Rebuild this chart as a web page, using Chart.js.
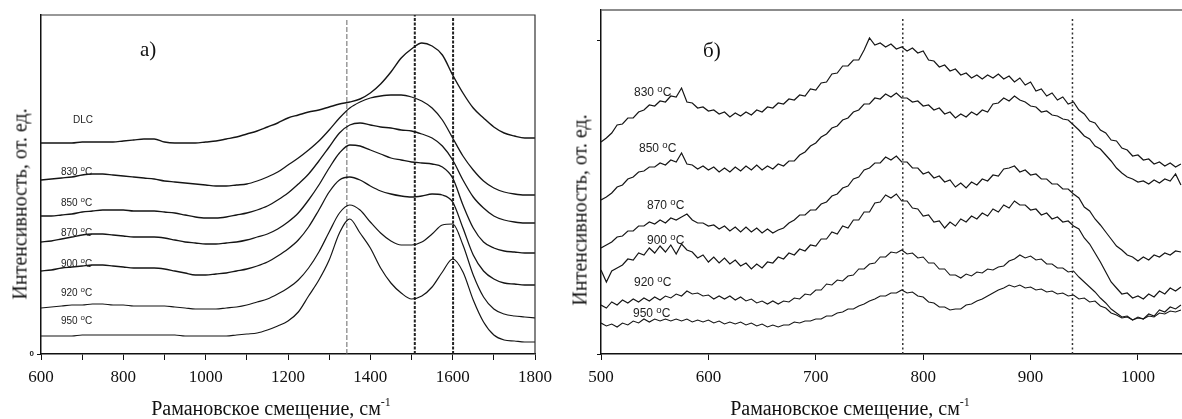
<!DOCTYPE html>
<html>
<head>
<meta charset="utf-8">
<script src="https://cdn.jsdelivr.net/npm/chart.js@4.4.1/dist/chart.umd.min.js"></script>
<style>
  body { margin: 0; background: #fff; }
  #wrap { position: relative; width: 1182px; height: 419px; overflow: hidden; }
  canvas { position: absolute; top: 0; }
  .t { position: absolute; font-family: "Liberation Serif", "Times New Roman", serif; color: #111; white-space: nowrap; }
  .t sup { font-size: 60%; vertical-align: 0; position: relative; top: -0.75em; }
  .lab { position: absolute; font-family: "Liberation Sans", Arial, sans-serif; color: #222; white-space: nowrap; transform: translateY(-50%); }
  .lab sup { font-size: 80%; vertical-align: 0; position: relative; top: -0.45em; }
</style>
</head>
<body>
<div id="wrap">
  <canvas id="chartA" width="560" height="419" style="left:0"></canvas>
  <canvas id="chartB" width="622" height="419" style="left:560px"></canvas>

  <div class="t" style="left:140px;top:37px;font-size:21px">а)</div>
  <div class="t" style="left:703px;top:38px;font-size:21px">б)</div>

  <div class="t" style="left:20px;top:204px;font-size:20px;transform:translate(-50%,-50%) rotate(-90deg)">Интенсивность, от. ед.</div>
  <div class="t" style="left:580px;top:210px;font-size:20px;transform:translate(-50%,-50%) rotate(-90deg)">Интенсивность, от. ед.</div>

  <div class="t" style="left:271px;top:408px;font-size:20px;transform:translate(-50%,-50%)">Рамановское смещение, см<sup>-1</sup></div>
  <div class="t" style="left:850px;top:408px;font-size:20px;transform:translate(-50%,-50%)">Рамановское смещение, см<sup>-1</sup></div>

  <!-- curve labels, panel a -->
  <div class="lab" style="left:73px;top:119px;font-size:10px">DLC</div>
  <div class="lab" style="left:61px;top:171px;font-size:10px">830 <sup>o</sup>C</div>
  <div class="lab" style="left:61px;top:202px;font-size:10px">850 <sup>o</sup>C</div>
  <div class="lab" style="left:61px;top:232px;font-size:10px">870 <sup>o</sup>C</div>
  <div class="lab" style="left:61px;top:263px;font-size:10px">900 <sup>o</sup>C</div>
  <div class="lab" style="left:61px;top:292px;font-size:10px">920 <sup>o</sup>C</div>
  <div class="lab" style="left:61px;top:320px;font-size:10px">950 <sup>o</sup>C</div>

  <!-- curve labels, panel b -->
  <div class="lab" style="left:634px;top:92px;font-size:12px">830 <sup>o</sup>C</div>
  <div class="lab" style="left:639px;top:148px;font-size:12px">850 <sup>o</sup>C</div>
  <div class="lab" style="left:647px;top:205px;font-size:12px">870 <sup>o</sup>C</div>
  <div class="lab" style="left:647px;top:240px;font-size:12px">900 <sup>o</sup>C</div>
  <div class="lab" style="left:634px;top:282px;font-size:12px">920 <sup>o</sup>C</div>
  <div class="lab" style="left:633px;top:313px;font-size:12px">950 <sup>o</sup>C</div>
</div>

<script>
// ---- panel a: DLC and annealed films, 600-1800 cm-1 ----
const shiftA = [600, 625, 650, 675, 700, 725, 750, 775, 800, 825, 850, 875, 900, 925, 950, 975,
  1000, 1025, 1050, 1075, 1100, 1125, 1150, 1175, 1200, 1225, 1250, 1275, 1300, 1325, 1350, 1375,
  1400, 1425, 1450, 1475, 1500, 1525, 1550, 1575, 1600, 1625, 1650, 1675, 1700, 1725, 1750, 1775, 1800];

const dlcA = [211, 211, 211, 211, 212, 212, 212, 212, 213, 214, 215, 215, 212, 211, 211, 211,
  212, 213, 215, 217, 220, 223, 227, 231, 236, 239, 242, 244, 247, 250, 252, 255,
  261, 270, 282, 296, 305, 311, 308, 299, 279, 261, 246, 236, 227, 221, 218, 216, 216];
const a830 = [174, 175, 176, 177, 179, 180, 180, 179, 178, 177, 176, 175, 173, 172, 171, 170,
  169, 168, 168, 169, 170, 173, 177, 182, 189, 196, 204, 213, 224, 236, 246, 252,
  256, 258, 259, 259, 257, 253, 246, 234, 216, 198, 184, 173, 166, 162, 160, 159, 159];
const a850 = [138, 138, 139, 140, 142, 143, 144, 144, 144, 143, 143, 143, 142, 141, 139, 137,
  136, 136, 137, 139, 141, 144, 148, 154, 161, 170, 180, 193, 207, 221, 229, 231,
  229, 227, 226, 224, 223, 220, 216, 208, 194, 174, 157, 146, 138, 134, 132, 131, 131];
const a870 = [112, 113, 115, 117, 119, 120, 120, 119, 118, 117, 117, 117, 116, 114, 112, 111,
  110, 110, 111, 112, 114, 117, 120, 125, 132, 141, 154, 169, 186, 201, 209, 208,
  204, 200, 196, 194, 192, 191, 190, 187, 176, 149, 126, 112, 106, 103, 102, 101, 101];
const a900 = [83, 84, 86, 87, 88, 89, 89, 88, 87, 86, 86, 86, 85, 83, 81, 79,
  79, 80, 81, 83, 85, 88, 92, 98, 105, 114, 127, 144, 162, 174, 177, 174,
  168, 163, 160, 158, 157, 158, 160, 159, 152, 126, 99, 83, 75, 71, 70, 69, 69];
const a920 = [46, 47, 48, 49, 49, 50, 50, 49, 49, 48, 48, 48, 48, 47, 46, 45,
  45, 45, 46, 47, 49, 52, 55, 60, 66, 74, 86, 102, 122, 141, 149, 144,
  132, 121, 113, 109, 109, 112, 120, 129, 130, 109, 79, 57, 45, 40, 38, 37, 36];
const a950 = [18, 18, 18, 18, 19, 19, 19, 19, 19, 19, 19, 19, 19, 19, 18, 18,
  18, 18, 18, 19, 20, 21, 24, 28, 33, 42, 58, 74, 94, 121, 135, 121,
  106, 86, 71, 61, 55, 58, 67, 82, 95, 82, 54, 32, 19, 14, 13, 12, 12];

const ticksA = [600, 700, 800, 900, 1000, 1100, 1200, 1300, 1400, 1500, 1600, 1700, 1800];
const marksA = [1343, 1508, 1601];

// ---- panel b: 500-1040 cm-1 ----
const shiftB = [500, 505, 510, 515, 520, 525, 530, 535, 540, 545,
  550, 555, 560, 565, 570, 575, 580, 585, 590, 595,
  600, 605, 610, 615, 620, 625, 630, 635, 640, 645,
  650, 655, 660, 665, 670, 675, 680, 685, 690, 695,
  700, 705, 710, 715, 720, 725, 730, 735, 740, 745,
  750, 755, 760, 765, 770, 775, 780, 785, 790, 795,
  800, 805, 810, 815, 820, 825, 830, 835, 840, 845,
  850, 855, 860, 865, 870, 875, 880, 885, 890, 895,
  900, 905, 910, 915, 920, 925, 930, 935, 940, 945,
  950, 955, 960, 965, 970, 975, 980, 985, 990, 995,
  1000, 1005, 1010, 1015, 1020, 1025, 1030, 1035, 1040];

const b830 = [212, 216, 221, 229, 230, 236, 236, 242, 244, 249,
  248, 253, 252, 258, 257, 266, 252, 251, 246, 247,
  243, 244, 240, 242, 237, 241, 238, 242, 239, 244,
  242, 247, 246, 251, 250, 255, 254, 259, 258, 265,
  264, 271, 272, 280, 281, 288, 288, 294, 294, 304,
  316, 309, 311, 307, 310, 305, 307, 303, 306, 301,
  303, 294, 293, 287, 289, 283, 285, 279, 281, 276,
  279, 275, 279, 276, 280, 275, 278, 272, 276, 269,
  272, 263, 265, 258, 261, 254, 257, 250, 252, 244,
  240, 233, 231, 224, 221, 214, 213, 206, 204, 198,
  199, 194, 195, 190, 192, 188, 191, 187, 190];
const b850 = [154, 157, 161, 167, 169, 175, 177, 182, 183, 187,
  187, 191, 189, 194, 192, 201, 190, 189, 185, 188,
  184, 187, 182, 186, 182, 187, 183, 188, 184, 189,
  184, 188, 185, 190, 188, 193, 193, 199, 202, 208,
  211, 217, 220, 226, 228, 234, 236, 242, 244, 250,
  250, 256, 255, 260, 257, 261, 256, 256, 252, 253,
  248, 249, 244, 246, 240, 242, 236, 240, 237, 242,
  239, 244, 242, 250, 251, 256, 253, 258, 254, 252,
  248, 247, 242, 243, 239, 238, 235, 234, 229, 224,
  218, 215, 208, 205, 199, 193, 186, 181, 177, 175,
  172, 173, 170, 174, 171, 175, 173, 180, 169];
const b870 = [106, 109, 112, 117, 118, 123, 123, 128, 128, 132,
  130, 134, 131, 136, 134, 137, 140, 134, 131, 131,
  128, 129, 125, 128, 123, 127, 122, 127, 122, 126,
  121, 125, 121, 124, 126, 131, 134, 139, 139, 144,
  144, 150, 152, 158, 160, 166, 168, 175, 177, 184,
  186, 191, 191, 197, 194, 198, 192, 192, 186, 186,
  180, 182, 176, 178, 172, 174, 167, 171, 166, 172,
  169, 175, 173, 179, 178, 185, 186, 188, 182, 184,
  179, 180, 175, 175, 170, 170, 165, 165, 160, 156,
  147, 143, 135, 129, 122, 115, 108, 104, 99, 97,
  93, 97, 94, 99, 97, 101, 99, 103, 102];
const b900 = [84, 72, 83, 86, 89, 95, 94, 101, 99, 106,
  101, 108, 102, 109, 100, 110, 104, 102, 96, 99,
  92, 97, 91, 96, 90, 94, 88, 91, 85, 90,
  86, 92, 91, 97, 95, 101, 99, 105, 103, 109,
  108, 115, 115, 122, 120, 128, 126, 134, 134, 142,
  142, 151, 152, 159, 156, 160, 153, 153, 146, 145,
  138, 139, 132, 133, 126, 132, 128, 135, 132, 138,
  135, 141, 138, 145, 142, 149, 146, 153, 149, 149,
  144, 145, 139, 141, 135, 137, 132, 133, 128, 125,
  116, 110, 101, 92, 82, 72, 66, 60, 61, 56,
  58, 55, 60, 57, 63, 60, 66, 63, 67];
const b920 = [49, 46, 52, 49, 54, 51, 55, 52, 56, 53,
  57, 54, 58, 56, 60, 58, 63, 60, 61, 58,
  59, 55, 58, 55, 58, 54, 57, 53, 55, 51,
  53, 50, 53, 50, 53, 52, 56, 55, 60, 59,
  64, 64, 70, 69, 74, 73, 78, 79, 85, 85,
  90, 91, 97, 97, 102, 101, 104, 100, 101, 96,
  97, 91, 91, 85, 85, 79, 79, 76, 80, 78,
  82, 81, 85, 84, 87, 88, 93, 95, 99, 96,
  98, 94, 95, 90, 90, 86, 86, 82, 83, 77,
  72, 67, 62, 56, 51, 45, 41, 37, 38, 34,
  37, 35, 40, 38, 44, 42, 47, 45, 49];
const b950 = [31, 28, 30, 27, 31, 29, 33, 31, 35, 32,
  35, 33, 35, 33, 35, 33, 35, 32, 34, 32,
  34, 31, 33, 30, 32, 30, 32, 29, 31, 28,
  30, 27, 29, 27, 29, 29, 32, 31, 33, 33,
  35, 35, 38, 38, 41, 42, 45, 45, 48, 50,
  53, 55, 58, 58, 61, 61, 64, 61, 62, 58,
  57, 52, 51, 47, 47, 44, 45, 45, 49, 50,
  53, 55, 58, 61, 64, 66, 69, 67, 69, 66,
  67, 64, 65, 62, 63, 60, 61, 58, 59, 55,
  56, 52, 53, 48, 46, 41, 39, 36, 37, 34,
  36, 35, 38, 37, 41, 40, 43, 42, 44];

const ticksB = [500, 600, 700, 800, 900, 1000];
const marksB = [781, 939];

const serif = '"Liberation Serif", "Times New Roman", serif';

function series(xs, ys) {
  return xs.map((x, i) => ({ x: x, y: ys[i] }));
}

function spectrum(xs, ys, smooth, width) {
  return {
    data: series(xs, ys),
    borderColor: '#151515',
    borderWidth: width,
    pointRadius: 0,
    fill: false,
    tension: smooth ? 0.4 : 0,
    cubicInterpolationMode: smooth ? 'monotone' : 'default'
  };
}

function marker(x, top, color, width, dash) {
  return {
    data: [{ x: x, y: 0 }, { x: x, y: top }],
    borderColor: color,
    borderWidth: width,
    borderDash: dash,
    pointRadius: 0,
    fill: false
  };
}

// box line along the top (and right side for panel a)
const framePlugin = {
  id: 'frame',
  afterDraw(chart, args, opts) {
    const { ctx, chartArea: a } = chart;
    ctx.save();
    ctx.strokeStyle = opts.color;
    ctx.lineWidth = opts.width;
    ctx.beginPath();
    ctx.moveTo(a.left, a.top);
    ctx.lineTo(a.right, a.top);
    if (opts.right) ctx.lineTo(a.right, a.bottom);
    ctx.stroke();
    ctx.restore();
  }
};

// panel a
const dsA = [
  spectrum(shiftA, dlcA, true, 1.4),
  spectrum(shiftA, a830, true, 1.3),
  spectrum(shiftA, a850, true, 1.3),
  spectrum(shiftA, a870, true, 1.3),
  spectrum(shiftA, a900, true, 1.3),
  spectrum(shiftA, a920, true, 1.2),
  spectrum(shiftA, a950, true, 1.2),
  marker(marksA[0], 336, '#666', 1, [5, 2]),
  marker(marksA[1], 339, '#222', 2, [3, 1.5]),
  marker(marksA[2], 336, '#222', 2, [3, 1.5])
];

new Chart(document.getElementById('chartA'), {
  type: 'line',
  data: { datasets: dsA },
  plugins: [framePlugin],
  options: {
    responsive: false,
    animation: false,
    devicePixelRatio: 1,
    layout: { padding: { top: 15, right: 25, left: 0, bottom: 0 } },
    plugins: {
      legend: { display: false },
      tooltip: { enabled: false },
      frame: { color: '#333', width: 1.2, right: true }
    },
    scales: {
      x: {
        type: 'linear',
        min: 600,
        max: 1800,
        afterBuildTicks: s => { s.ticks = ticksA.map(v => ({ value: v })); },
        afterFit: s => { s.height = 65; },
        ticks: {
          callback: v => (v % 200 === 0 ? String(v) : ''),
          font: { family: serif, size: 17 },
          color: '#111',
          padding: 7,
          maxRotation: 0,
          autoSkip: false
        },
        grid: { drawOnChartArea: false, tickLength: 6, color: '#111' },
        border: { color: '#111', width: 1.5 }
      },
      y: {
        min: 0,
        max: 339,
        afterBuildTicks: s => { s.ticks = [{ value: 0 }]; },
        afterFit: s => { s.width = 41; },
        ticks: {
          callback: () => '0',
          font: { family: 'Liberation Sans, Arial, sans-serif', size: 8, weight: 'bold' },
          color: '#222',
          padding: 3
        },
        grid: { drawOnChartArea: false, tickLength: 4, color: '#111' },
        border: { color: '#111', width: 1.5 }
      }
    }
  }
});

// panel b
const dsB = [
  spectrum(shiftB, b830, false, 1.2),
  spectrum(shiftB, b850, false, 1.2),
  spectrum(shiftB, b870, false, 1.2),
  spectrum(shiftB, b900, false, 1.2),
  spectrum(shiftB, b920, false, 1.1),
  spectrum(shiftB, b950, false, 1.1),
  marker(marksB[0], 336, '#333', 1.5, [2, 2.5]),
  marker(marksB[1], 336, '#333', 1.5, [2, 2.5])
];

new Chart(document.getElementById('chartB'), {
  type: 'line',
  data: { datasets: dsB },
  plugins: [framePlugin],
  options: {
    responsive: false,
    animation: false,
    devicePixelRatio: 1,
    layout: { padding: { top: 10, right: 0, left: 0, bottom: 0 } },
    plugins: {
      legend: { display: false },
      tooltip: { enabled: false },
      frame: { color: '#666', width: 1.5, right: false }
    },
    scales: {
      x: {
        type: 'linear',
        min: 500,
        max: 1041,
        afterBuildTicks: s => { s.ticks = ticksB.map(v => ({ value: v })); },
        afterFit: s => { s.height = 65; },
        ticks: {
          callback: v => String(v),
          font: { family: serif, size: 17 },
          color: '#111',
          padding: 7,
          maxRotation: 0,
          autoSkip: false
        },
        grid: { drawOnChartArea: false, tickLength: 6, color: '#111' },
        border: { color: '#111', width: 1.5 }
      },
      y: {
        min: 0,
        max: 344,
        afterBuildTicks: s => { s.ticks = [{ value: 0 }, { value: 314 }]; },
        afterFit: s => { s.width = 41; },
        ticks: { callback: () => '', padding: 0 },
        grid: { drawOnChartArea: false, tickLength: 4, color: '#111' },
        border: { color: '#111', width: 1.5 }
      }
    }
  }
});
</script>
</body>
</html>
